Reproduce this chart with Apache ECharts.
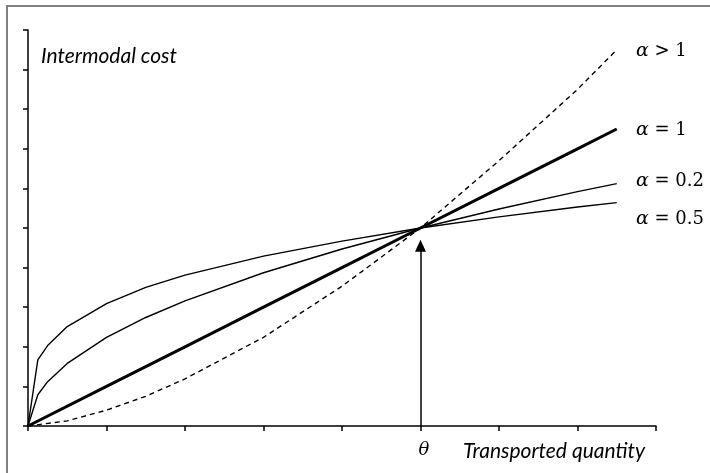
<!DOCTYPE html>
<html>
<head>
<meta charset="utf-8">
<script src="https://cdn.jsdelivr.net/npm/echarts@6/dist/echarts.min.js"></script>
<style>html,body{margin:0;padding:0;background:#fff}#c{width:710px;height:473px}</style>
</head>
<body>
<div id="c"></div>
<script>
// Data
const xCurve = [0, 0.125, 0.25, 0.5, 1, 1.5, 2, 3, 4, 5, 6, 7, 7.5];
const curveLow = [0, 1.67, 2.03, 2.51, 3.09, 3.5, 3.81, 4.29, 4.67, 5, 5.28, 5.53, 5.64];
const curveHigh = [0, 0.79, 1.12, 1.58, 2.24, 2.74, 3.16, 3.87, 4.47, 5, 5.48, 5.92, 6.12];
const xLinear = [0, 1, 2, 3, 4, 5, 6, 7, 7.5];
const linearVals = [0, 1, 2, 3, 4, 5, 6, 7, 7.5];
const xDashed = [0, 0.5, 1, 1.5, 2, 3, 4, 5, 6, 7, 7.5];
const dashedVals = [0, 0.13, 0.4, 0.75, 1.19, 2.24, 3.53, 5, 6.7, 8.5, 9.5];
const thetaX = 5;
const arrowTop = 4.7;
const yTitle = 'Intermodal cost';
const xTitle = 'Transported quantity';
const thetaLabel = 'θ';
const alphaLabels = [['α', ' > 1'], ['α', ' = 1'], ['α', ' = 0.2'], ['α', ' = 0.5']];

const zip = (xs, ys) => xs.map((x, i) => [x, ys[i]]);

const chart = echarts.init(document.getElementById('c'), null, {renderer: 'canvas'});
const grid = {left: 28, right: 54, top: 30, bottom: 47};
const labelTops = [51, 130, 181, 219];

const graphics = [
  {type: 'rect', shape: {x: 7, y: 6, width: 900, height: 700}, style: {fill: 'none', stroke: '#7f7f7f', lineWidth: 2}, silent: true},
  {type: 'text', x: 41, y: 56, style: {text: yTitle, font: 'italic 21px Lato', fill: '#000', textVerticalAlign: 'middle'}},
  {type: 'text', x: 463, y: 451, style: {text: xTitle, font: 'italic 21px Lato', fill: '#000', textVerticalAlign: 'middle'}},
  {type: 'text', x: 424, y: 450, style: {text: thetaLabel, font: 'italic 18px "DejaVu Serif"', fill: '#000', textAlign: 'center', textVerticalAlign: 'middle'}}
];
alphaLabels.forEach((lab, i) => {
  graphics.push({
    type: 'text', x: 636, y: labelTops[i],
    style: {
      text: '{a|' + lab[0] + '}{b|' + lab[1] + '}',
      textVerticalAlign: 'middle',
      rich: {
        a: {font: 'italic 19px "DejaVu Serif"', fill: '#000'},
        b: {font: '18px "DejaVu Serif"', fill: '#000'}
      }
    }
  });
});

const thinLine = {color: '#000', width: 1.4};
chart.setOption({
  animation: false,
  backgroundColor: '#fff',
  grid: grid,
  xAxis: {
    type: 'value', min: 0, max: 8, interval: 1,
    axisLine: {show: true, onZero: false, lineStyle: {color: '#000', width: 1.5}},
    axisTick: {show: true, inside: false, length: 5, lineStyle: {color: '#000', width: 1.5}},
    axisLabel: {show: false},
    splitLine: {show: false}
  },
  yAxis: {
    type: 'value', min: 0, max: 10, interval: 1,
    axisLine: {show: true, onZero: false, lineStyle: {color: '#000', width: 1.5}},
    axisTick: {show: true, inside: false, length: 5, lineStyle: {color: '#000', width: 1.5}},
    axisLabel: {show: false},
    splitLine: {show: false}
  },
  series: [
    {type: 'line', data: zip(xCurve, curveLow), showSymbol: false, lineStyle: thinLine, silent: true},
    {type: 'line', data: zip(xCurve, curveHigh), showSymbol: false, lineStyle: thinLine, silent: true},
    {type: 'line', data: zip(xDashed, dashedVals), showSymbol: false, lineStyle: {color: '#000', width: 1.4, type: [5, 4]}, silent: true},
    {type: 'line', data: zip(xLinear, linearVals), showSymbol: false, lineStyle: {color: '#000', width: 3}, silent: true,
      markLine: {
        silent: true,
        symbol: ['none', 'triangle'],
        symbolSize: [11, 12],
        symbolOffset: [0, 0],
        label: {show: false},
        lineStyle: {color: '#000', width: 1.5, type: 'solid'},
        data: [[{coord: [thetaX, 0]}, {coord: [thetaX, arrowTop - 0.15]}]]
      }
    }
  ],
  graphic: graphics
});
</script>
</body>
</html>
